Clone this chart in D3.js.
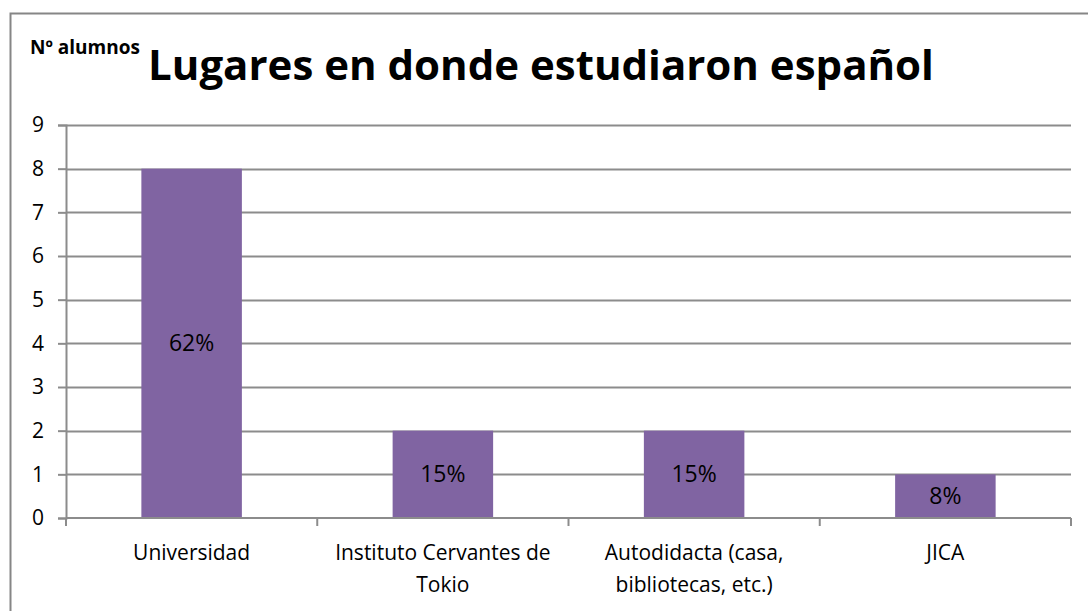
<!DOCTYPE html>
<html lang="es">
<head>
<meta charset="UTF-8">
<title>Lugares en donde estudiaron español</title>
<script src="https://d3js.org/d3.v7.min.js"></script>
<style>
  body { margin: 0; background: #fff; }
  svg { display: block; font-family: "Open Sans", "Noto Sans", sans-serif; }
</style>
</head>
<body>
<svg width="1088" height="611"></svg>
<script>
// data
const categories = [["Universidad"], ["Instituto Cervantes de", "Tokio"], ["Autodidacta (casa,", "bibliotecas, etc.)"], ["JICA"]];
const values = [8, 2, 2, 1];
const percentLabels = ["62%", "15%", "15%", "8%"];
const yTicks = [0, 1, 2, 3, 4, 5, 6, 7, 8, 9];

const svg = d3.select("svg");
const W = 1088, H = 611;
const margin = {left: 66, right: 17, top: 125, bottom: 93};

// outer frame (runs past the right and bottom edges of the picture)
svg.append("rect")
  .attr("x", 10.5).attr("y", 13.5)
  .attr("width", 1200).attr("height", 800)
  .attr("fill", "none").attr("stroke", "#868686").attr("stroke-width", 2);

const x = d3.scaleBand()
  .domain(d3.range(values.length))
  .range([margin.left, W - margin.right])
  .paddingInner(0.6).paddingOuter(0.3);

const y = d3.scaleLinear()
  .domain([0, 9])
  .range([H - margin.bottom, margin.top]);

// gridlines
svg.append("g")
  .selectAll("line")
  .data(yTicks.slice(1))
  .join("line")
  .attr("x1", margin.left).attr("x2", W - margin.right)
  .attr("y1", d => Math.round(y(d)) + 0.5).attr("y2", d => Math.round(y(d)) + 0.5)
  .attr("stroke", "#8c8c8c").attr("stroke-width", 2);

// bars
svg.append("g")
  .selectAll("rect")
  .data(values)
  .join("rect")
  .attr("x", (d, i) => x(i))
  .attr("width", x.bandwidth())
  .attr("y", d => y(d))
  .attr("height", d => y(0) - y(d))
  .attr("fill", "#8064a2");

// percent labels inside bars
svg.append("g")
  .selectAll("text")
  .data(values)
  .join("text")
  .attr("x", (d, i) => x(i) + x.bandwidth() / 2)
  .attr("y", d => (y(d) + y(0)) / 2)
  .attr("dy", "0.35em")
  .attr("text-anchor", "middle")
  .attr("font-size", 23)
  .attr("fill", "#000")
  .text((d, i) => percentLabels[i]);

// y axis
const yAxis = svg.append("g")
  .attr("transform", `translate(${margin.left},0)`)
  .call(d3.axisLeft(y).tickValues(yTicks).tickSize(8).tickPadding(14).tickFormat(d3.format("d")));
yAxis.select(".domain").attr("stroke", "#8c8c8c").attr("stroke-width", 2);
yAxis.selectAll(".tick line").attr("stroke", "#8c8c8c").attr("stroke-width", 2);
yAxis.selectAll(".tick text").attr("font-size", 21).attr("fill", "#000")
  .attr("font-family", "Open Sans, sans-serif");

// x axis: baseline and ticks at category boundaries
const bounds = d3.range(values.length + 1).map(i => margin.left + i * (W - margin.right - margin.left) / values.length);
svg.append("line")
  .attr("x1", margin.left).attr("x2", W - margin.right)
  .attr("y1", y(0)).attr("y2", y(0))
  .attr("stroke", "#8c8c8c").attr("stroke-width", 2);
svg.append("g")
  .selectAll("line")
  .data(bounds)
  .join("line")
  .attr("x1", d => d).attr("x2", d => d)
  .attr("y1", y(0)).attr("y2", y(0) + 8)
  .attr("stroke", "#8c8c8c").attr("stroke-width", 2);

// category labels
const catG = svg.append("g")
  .selectAll("text")
  .data(categories)
  .join("text")
  .attr("x", (d, i) => x(i) + x.bandwidth() / 2)
  .attr("y", y(0) + 42)
  .attr("text-anchor", "middle")
  .attr("font-size", 21)
  .attr("fill", "#000");
catG.selectAll("tspan")
  .data(d => d)
  .join("tspan")
  .attr("x", function() { return this.parentNode.getAttribute("x"); })
  .attr("dy", (d, i) => i === 0 ? 0 : 32)
  .text(d => d);

// title
svg.append("text")
  .attr("x", 541).attr("y", 80)
  .attr("text-anchor", "middle")
  .attr("font-size", 42).attr("font-weight", "bold")
  .text("Lugares en donde estudiaron español");

// y axis caption
svg.append("text")
  .attr("x", 30).attr("y", 54)
  .attr("font-size", 19).attr("font-weight", "bold")
  .text("Nº alumnos");
</script>
</body>
</html>
